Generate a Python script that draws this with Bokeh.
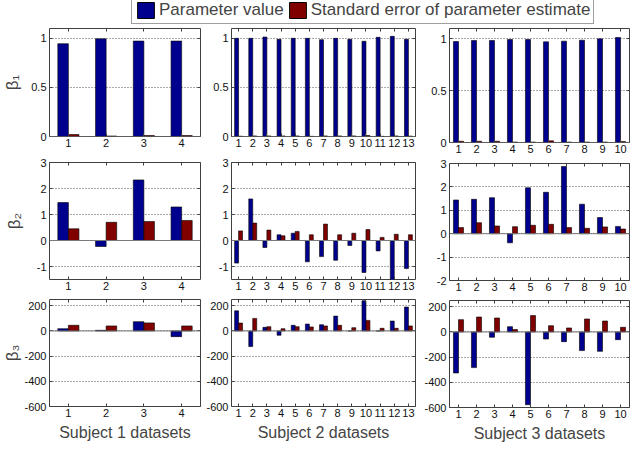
from bokeh.plotting import figure
from bokeh.models import (ColumnDataSource, FixedTicker, Range1d, LinearAxis, Span,
                          Legend, LegendItem, CustomJSTickFormatter)
from bokeh.layouts import column, row
from bokeh.transform import dodge
from bokeh.embed import file_html
from bokeh.resources import INLINE

# ---------------- data ----------------
series_names = ["Parameter value", "Standard error of parameter estimate"]
xlabels = ["Subject 1 datasets", "Subject 2 datasets", "Subject 3 datasets"]
ylabels = ["β₁", "β₂", "β₃"]

s1_b1 = [0.945, 0.995, 0.972, 0.972]
s1_b1_se = [0.02, 0.005, 0.01, 0.01]
s2_b1 = [1.0, 1.0, 1.013, 0.99, 1.0, 1.0, 0.986, 1.0, 0.99, 0.97, 1.01, 1.02, 0.99]
s2_b1_se = [0.003, 0.006, 0.006, 0.006, 0.006, 0.002, 0.006, 0.006, 0.006, 0.01, 0.002, 0.006, 0.004]
s3_b1 = [0.974, 0.984, 0.984, 0.994, 0.994, 0.971, 0.978, 0.987, 1.0, 1.013]
s3_b1_se = [0.012, 0.012, 0.012, 0.004, 0.004, 0.016, 0.004, 0.004, 0.004, 0.01]

s1_b2 = [1.46, -0.23, 2.33, 1.29]
s1_b2_se = [0.45, 0.70, 0.73, 0.77]
s2_b2 = [-0.87, 1.60, -0.27, 0.22, 0.28, -0.82, -0.62, -0.76, -0.19, -1.23, -0.40, -1.65, -1.08]
s2_b2_se = [0.37, 0.67, 0.40, 0.18, 0.35, 0.22, 0.63, 0.22, 0.28, 0.42, 0.12, 0.24, 0.22]
s3_b2 = [1.44, 1.47, 1.54, -0.39, 1.96, 1.77, 2.87, 1.26, 0.69, 0.31]
s3_b2_se = [0.26, 0.47, 0.33, 0.30, 0.36, 0.40, 0.26, 0.23, 0.29, 0.20]

s1_b3 = [18, 5, 74, -45]
s1_b3_se = [45, 40, 64, 40]
s2_b3 = [160, -124, 29, -34, 45, 55, 50, 118, 0, 240, 0, 79, 190]
s2_b3_se = [63, 100, 34, 18, 34, 32, 40, 45, 26, 84, 21, 21, 40]
s3_b3 = [-326, -283, -42, 42, -578, -56, -77, -148, -154, -61]
s3_b3_se = [98, 119, 111, 19, 130, 50, 32, 103, 87, 37]

ylim_b1 = (0, 1.1)
ticks_b1 = [0, 0.5, 1]
ylim_b2 = (-1.5, 3)
ylim_b2_s3 = (-2, 3)
ticks_b2 = [-1, 0, 1, 2, 3]
ticks_b2_s3 = [-2, -1, 0, 1, 2, 3]
ylim_b3 = (-600, 250)
ticks_b3 = [-600, -400, -200, 0, 200]

# ---------------- style ----------------
FONT = "Liberation Sans"
BLUE = "#00008F"
RED = "#800000"
FRAME = "#404040"
FMT = CustomJSTickFormatter(code="return String(tick)")


def panel(vals, ses, yr, yticks, w, h, bl, br, bt, bb,
          ylabel=None, ylab_standoff=4, xlabel=None):
    n = len(vals)
    src = ColumnDataSource(dict(x=list(range(1, n + 1)), val=vals, se=ses))
    p = figure(width=w, height=h,
               min_border_left=bl, min_border_right=br,
               min_border_top=bt, min_border_bottom=bb,
               x_range=Range1d(0.5, n + 0.5), y_range=Range1d(*yr),
               output_backend="svg", toolbar_location=None, tools="")
    p.outline_line_color = FRAME
    p.outline_line_width = 1
    p.xgrid.grid_line_color = None
    p.ygrid.ticker = FixedTicker(ticks=yticks)
    p.ygrid.grid_line_color = "#555555"
    p.ygrid.grid_line_dash = "1 2"
    p.ygrid.grid_line_width = 1

    p.vbar(x=dodge("x", -0.14, range=p.x_range), top="val", bottom=0, width=0.28,
           source=src, fill_color=BLUE, line_color="#000000", line_width=0.6)
    p.vbar(x=dodge("x", 0.14, range=p.x_range), top="se", bottom=0, width=0.28,
           source=src, fill_color=RED, line_color="#000000", line_width=0.6)
    p.add_layout(Span(location=0, dimension="width", line_color="#7a7a7a", line_width=1))

    xt = FixedTicker(ticks=list(range(1, n + 1)))
    yt = FixedTicker(ticks=yticks)
    xb = p.below[0]
    yl = p.left[0]
    for ax, tk in ((xb, xt), (yl, yt)):
        ax.ticker = tk
        ax.formatter = FMT
        ax.axis_line_color = None
        ax.major_tick_in = 3
        ax.major_tick_out = 0
        ax.minor_tick_line_color = None
        ax.major_tick_line_color = FRAME
        ax.major_label_text_font = FONT
        ax.major_label_text_font_size = "11px"
        ax.major_label_text_color = "#111111"
        ax.major_label_standoff = 3
    xb.major_label_standoff = 2
    for loc, tk in (("above", xt), ("right", yt)):
        ax = LinearAxis(ticker=tk, formatter=CustomJSTickFormatter(code="return ''"),
                        major_label_text_font_size="0px", major_label_standoff=0,
                        major_tick_in=3, major_tick_out=0,
                        minor_tick_line_color=None, axis_line_color=None,
                        major_tick_line_color=FRAME)
        p.add_layout(ax, loc)
    if ylabel:
        yl.axis_label = ylabel
        yl.axis_label_text_font = FONT
        yl.axis_label_text_font_size = "17px"
        yl.axis_label_text_font_style = "normal"
        yl.axis_label_standoff = ylab_standoff
    if xlabel:
        xb.axis_label = xlabel
        xb.axis_label_text_font = FONT
        xb.axis_label_text_font_size = "16px"
        xb.axis_label_text_font_style = "normal"
        xb.axis_label_standoff = 4
    return p


# column 1  (figure widths/heights fixed; borders set the frame)
c1 = column(
    panel(s1_b1, s1_b1_se, ylim_b1, ticks_b1, 202, 128, 44, 2, 2, 18, ylabels[0], 6),
    panel(s1_b2, s1_b2_se, ylim_b2, ticks_b2, 202, 141, 44, 2, 8, 16, ylabels[1], 10),
    panel(s1_b3, s1_b3_se, ylim_b3, ticks_b3, 202, 152, 44, 2, 4, 41, ylabels[2], -1, xlabels[0]),
)
# column 2
c2 = column(
    panel(s2_b1, s2_b1_se, ylim_b1, ticks_b1, 216, 128, 29, 3, 2, 18),
    panel(s2_b2, s2_b2_se, ylim_b2, ticks_b2, 216, 141, 29, 3, 8, 16),
    panel(s2_b3, s2_b3_se, ylim_b3, ticks_b3, 216, 152, 29, 3, 4, 41, xlabel=xlabels[1]),
)
# column 3
c3 = column(
    panel(s3_b1, s3_b1_se, ylim_b1, ticks_b1, 214, 131, 31, 3, 2, 15),
    panel(s3_b2, s3_b2_se, ylim_b2_s3, ticks_b2_s3, 214, 139, 31, 3, 6, 16),
    panel(s3_b3, s3_b3_se, ylim_b3, ticks_b3, 214, 151, 31, 3, 4, 40, xlabel=xlabels[2]),
)

# legend strip (legend proxies use the subject-1 data, kept outside the visible range)
lf = figure(width=632, height=29, min_border=0, x_axis_type=None, y_axis_type=None,
            x_range=Range1d(-20, -19), y_range=Range1d(0, 1),
            output_backend="svg", toolbar_location=None, tools="")
lf.outline_line_color = None
lf.xgrid.grid_line_color = None
lf.ygrid.grid_line_color = None
proxy = ColumnDataSource(dict(x=list(range(1, len(s1_b1) + 1)), val=s1_b1, se=s1_b1_se))
rb = lf.vbar(x="x", top="val", width=0.28, source=proxy, fill_color=BLUE, line_color="#000000")
rr = lf.vbar(x="x", top="se", width=0.28, source=proxy, fill_color=RED, line_color="#000000")
leg = Legend(items=[LegendItem(label=series_names[0], renderers=[rb], index=0),
                    LegendItem(label=series_names[1], renderers=[rr], index=0)],
             orientation="horizontal", location=(131, 2),
             glyph_width=21, glyph_height=20, label_standoff=3, spacing=3,
             padding=3, margin=0,
             label_text_font=FONT, label_text_font_size="17px",
             border_line_color=FRAME, border_line_width=1,
             background_fill_color="white", background_fill_alpha=1)
lf.add_layout(leg)

root = column(lf, row(c1, c2, c3), margin=(-3, 0, -4, 0))

open("out.html", "w").write(file_html(root, INLINE))
